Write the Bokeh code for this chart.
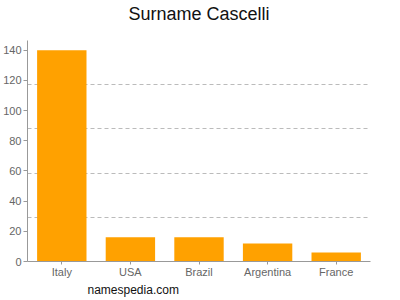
from bokeh.plotting import figure
from bokeh.models import FactorRange, Range1d, FixedTicker, Title
from bokeh.embed import file_html
from bokeh.resources import INLINE

countries = ["Italy", "USA", "Brazil", "Argentina", "France"]
counts = [140, 16, 16, 12, 6]
y_ticks = [0, 20, 40, 60, 80, 100, 120, 140]
y_max = 146.4

p = figure(width=400, height=300, output_backend="svg", toolbar_location=None,
           x_range=FactorRange(factors=countries, range_padding=0),
           y_range=Range1d(0, y_max),
           min_border_left=25, min_border_right=30, min_border_top=40, min_border_bottom=39)
p.outline_line_color = None
p.background_fill_color = "white"
p.border_fill_color = "white"

p.vbar(x=countries, top=counts, width=0.72, color="#FFA100", line_color=None)

font = "Liberation Sans"
for ax in (p.xaxis[0], p.yaxis[0]):
    ax.axis_line_color = "#999999"
    ax.major_tick_line_color = "#999999"
    ax.major_tick_in = 0
    ax.major_tick_out = 4
    ax.minor_tick_line_color = None
    ax.major_label_text_font = font
    ax.major_label_text_font_size = "11px"
    ax.major_label_text_color = "#666666"
    ax.major_label_standoff = 2
p.xaxis[0].major_tick_out = 3
p.xaxis[0].major_label_standoff = 1
p.yaxis[0].ticker = FixedTicker(ticks=y_ticks)

p.xgrid.grid_line_color = None
p.ygrid.ticker = FixedTicker(ticks=[y_max * i / 5 for i in range(1, 6)])
p.ygrid.grid_line_color = "#bbbbbb"
p.ygrid.grid_line_dash = "4 3"

p.title = Title(text="Surname Cascelli", align="center", text_font=font,
                text_font_size="18px", text_font_style="normal", text_color="#111111",
                vertical_align="top", standoff=4)
spacer = Title(text=" ", text_font_size="10px", standoff=0)
p.add_layout(spacer, "above")

foot = Title(text="namespedia.com", align="left", offset=60, text_font=font,
             text_font_size="12px", text_font_style="normal", text_color="#111111",
             vertical_align="top", standoff=4)
p.add_layout(foot, "below")

open("out.html", "w").write(file_html(p, INLINE))
